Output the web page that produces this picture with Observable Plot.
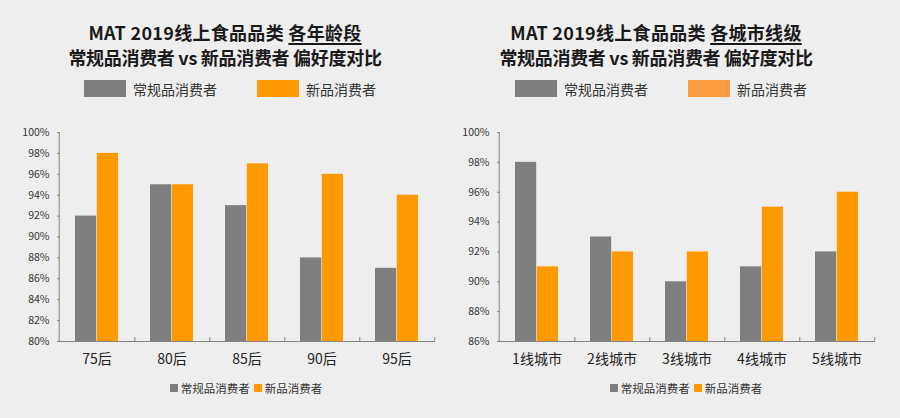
<!DOCTYPE html>
<html>
<head>
<meta charset="utf-8">
<script src="https://cdn.jsdelivr.net/npm/d3@7"></script>
<script src="https://cdn.jsdelivr.net/npm/@observablehq/plot@0.6"></script>
<style>
  html, body { margin: 0; padding: 0; background: #efeeee; }
  #root { position: relative; width: 900px; height: 418px; background: #efeeee; overflow: hidden;
          font-family: "Noto Sans CJK SC", "Noto Sans", sans-serif; color: #222; }
  .panel { position: absolute; top: 0; width: 450px; height: 418px; }
  .title { position: absolute; top: 20px; width: 420px; text-align: center; font-size: 18px;
           font-weight: 700; line-height: 25px; color: #1a1a1a; white-space: nowrap; }
  .title .l1 { letter-spacing: 0.3px; }
  .title .l2 { letter-spacing: -0.3px; }
  .title u { text-decoration-thickness: 1.5px; text-underline-offset: 3px; }
  .legend { position: absolute; top: 78px; height: 21px; width: 400px; display: flex; justify-content: center;
            align-items: center; font-size: 14px; color: #333; white-space: nowrap; }
  .legend .sw { width: 42px; height: 17px; margin-right: 7px; }
  .legend .item { display: flex; align-items: center; }
  .legend .item + .item { margin-left: 40px; }
  .chart { position: absolute; top: 110px; left: 0; }
  .blegend { position: absolute; top: 380px; width: 300px; display: flex; justify-content: center;
             align-items: center; font-size: 11.5px; color: #333; white-space: nowrap; }
  .blegend .sq { width: 8px; height: 8px; margin-right: 3px; }
  .blegend .item { display: flex; align-items: center; }
  .blegend .item + .item { margin-left: 4px; }
</style>
</head>
<body>
<div id="root"></div>
<script>
// ---------- data ----------
const seriesNames = ["常规品消费者", "新品消费者"];

const ageGroups = ["75后", "80后", "85后", "90后", "95后"];
const ageRegular = [92, 95, 93, 88, 87];
const ageNew = [98, 95, 97, 96, 94];
const ageTicks = [80, 82, 84, 86, 88, 90, 92, 94, 96, 98, 100];

const cityTiers = ["1线城市", "2线城市", "3线城市", "4线城市", "5线城市"];
const cityRegular = [98, 93, 90, 91, 92];
const cityNew = [91, 92, 92, 95, 96];
const cityTicks = [86, 88, 90, 92, 94, 96, 98, 100];

const titleLine1Prefix = "MAT 2019线上食品品类 ";
const ageTitleKey = "各年龄段";
const cityTitleKey = "各城市线级";
const titleLine2 = "常规品消费者 vs 新品消费者 偏好度对比";

// ---------- style ----------
const GRAY = "#7f7f7f";
const ORANGE = "#ff9900";
const AXIS = "#858585";

function makePanel(left, chartLeft, cats, regular, fresh, ticks, titleKey, titleCx, legendOrange) {
  const panel = document.createElement("div");
  panel.className = "panel";
  panel.style.left = left + "px";

  const title = document.createElement("div");
  title.className = "title";
  title.style.left = (titleCx - 210) + "px";
  title.innerHTML = `<span class="l1">${titleLine1Prefix}<u>${titleKey}</u></span><br><span class="l2">${titleLine2}</span>`;
  panel.appendChild(title);

  const legend = document.createElement("div");
  legend.className = "legend";
  legend.style.left = (titleCx + 5 - 200) + "px";
  legend.innerHTML = seriesNames.map((s, i) =>
    `<div class="item"><div class="sw" style="background:${i ? legendOrange : GRAY}"></div>${s}</div>`).join("");
  panel.appendChild(legend);

  const rows = [];
  cats.forEach((c, i) => {
    rows.push({cat: c, series: seriesNames[0], value: regular[i]});
    rows.push({cat: c, series: seriesNames[1], value: fresh[i]});
  });

  const W = 450, H = 265;
  const mL = 57, mR = 15, mT = 22, mB = 34;
  const plotW = W - mL - mR;
  const bw = plotW / cats.length;
  const gap = 16;
  const yMin = ticks[0], yMax = ticks[ticks.length - 1];

  const chart = Plot.plot({
    width: W, height: H,
    marginLeft: mL, marginRight: mR, marginTop: mT, marginBottom: mB,
    style: {background: "transparent", fontFamily: "'Noto Sans CJK SC', 'Noto Sans', sans-serif", overflow: "visible"},
    x: {domain: cats, padding: 0},
    y: {domain: [yMin, yMax]},
    color: {domain: seriesNames, range: [GRAY, ORANGE]},
    marks: [
      Plot.barY(rows.filter(d => d.series === seriesNames[0]), {
        x: "cat", y1: yMin, y2: "value", fill: "series", insetLeft: gap, insetRight: bw / 2
      }),
      Plot.barY(rows.filter(d => d.series === seriesNames[1]), {
        x: "cat", y1: yMin, y2: "value", fill: "series", insetLeft: bw / 2, insetRight: gap
      }),
      Plot.ruleY([yMin], {stroke: AXIS}),
      Plot.ruleX([cats[0]], {x: d => d, dx: -bw / 2, stroke: AXIS}),
      Plot.ruleY(ticks, {y: d => d, insetRight: plotW - 3, stroke: AXIS}),
      Plot.ruleX(cats, {x: d => d, y1: yMin, y2: yMin, dx: bw / 2, insetTop: -4, stroke: AXIS}),
      Plot.axisY(ticks, {tickSize: 0, tickPadding: 8, tickFormat: d => d + "%", fontSize: 10.5, fill: "#333", label: null}),
      Plot.axisX({tickSize: 0, tickPadding: 13, fontSize: 14, fill: "#222", label: null})
    ]
  });
  chart.classList.add("chart");
  chart.style.left = chartLeft + "px";
  panel.appendChild(chart);

  const blegend = document.createElement("div");
  blegend.className = "blegend";
  blegend.style.left = (chartLeft + mL + plotW / 2 - 150) + "px";
  blegend.innerHTML = seriesNames.map((s, i) =>
    `<div class="item"><div class="sq" style="background:${i ? ORANGE : GRAY}"></div>${s}</div>`).join("");
  panel.appendChild(blegend);

  return panel;
}

const root = document.getElementById("root");
root.appendChild(makePanel(0, 0, ageGroups, ageRegular, ageNew, ageTicks, ageTitleKey, 225, ORANGE));
root.appendChild(makePanel(450, -10, cityTiers, cityRegular, cityNew, cityTicks, cityTitleKey, 206, "#fb9a40"));
</script>
</body>
</html>
